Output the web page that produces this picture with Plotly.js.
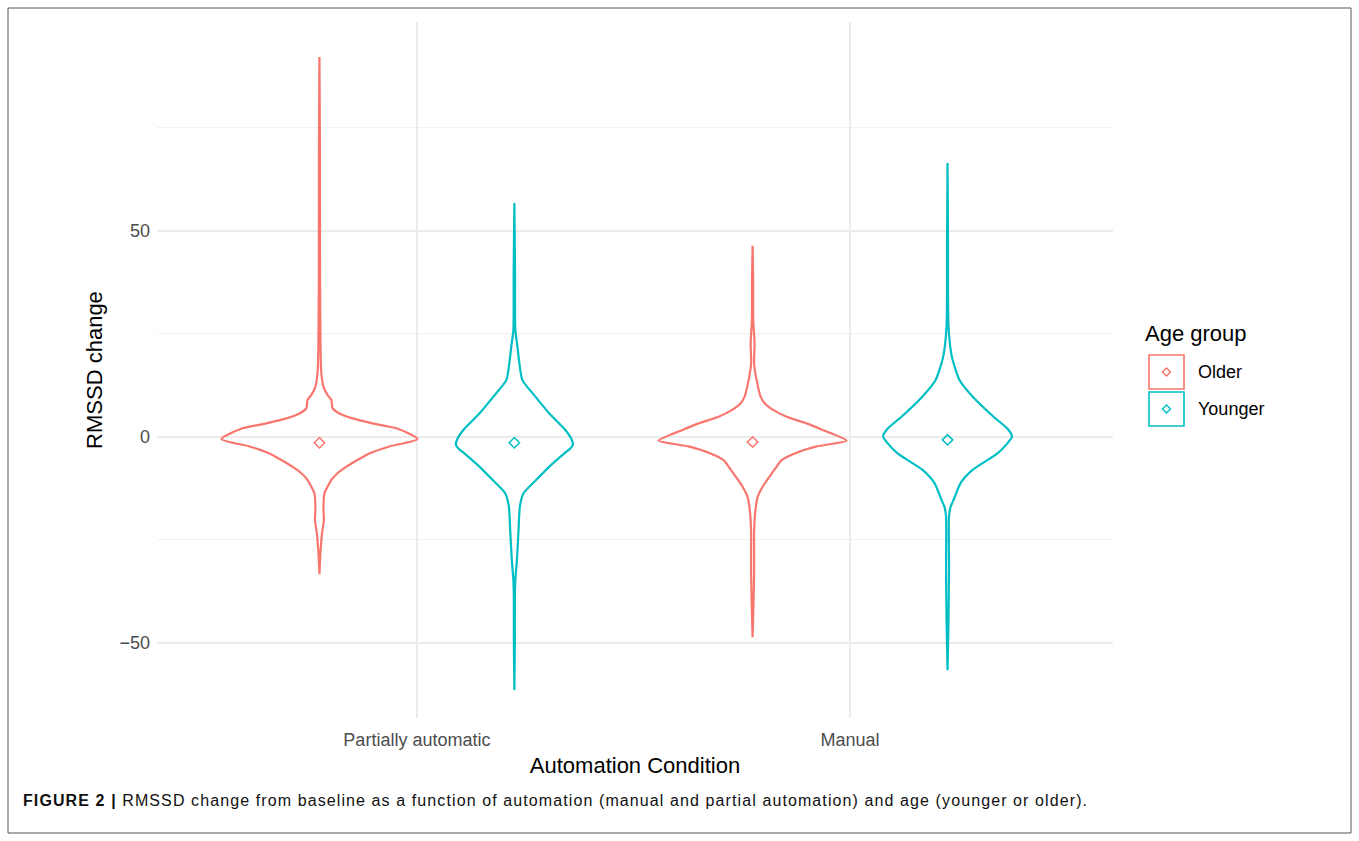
<!DOCTYPE html>
<html>
<head>
<meta charset="utf-8">
<script src="https://cdn.plot.ly/plotly-3.0.1.min.js"></script>
<style>html,body{margin:0;padding:0;background:#fff;}#chart{width:1359px;height:841px;}</style>
</head>
<body>
<div id="chart"></div>
<script>
// ---------- data ----------
const conditions = ["Partially automatic", "Manual"];
const ageGroups = ["Older", "Younger"];
const yTicks = [-50, 0, 50];
const yTickLabels = ["\u221250", "0", "50"];

// Violin outlines: RMSSD change level and relative density (half-width, peak of widest = 100)
const olderPartialY = [-33.3,-28.2,-23.3,-20.1,-17.7,-13.7,-12.1,-10.4,-8.8,-7.2,-5.6,-4.0,-2.3,-0.5,2.1,3.3,4.5,5.7,7.0,9.0,10.2,12.2,16.3,24.3,40,70,92.2];
const olderPartialD = [0,1,2.7,4.6,4.1,5.1,8.2,12.2,18.4,27.6,38.8,51,71.4,100,78.6,54.1,33.7,20.4,13.3,12.2,8.2,4.1,1.7,1,0.6,0.5,0];

const youngerPartialY = [-61.4,-50,-39.6,-34.7,-29.9,-23.4,-16.9,-13.7,-10.4,-7.2,-4.0,-2.8,-1.9,-0.5,1.7,5.7,9.8,13.8,17.9,22,26,40,56.8];
const youngerPartialD = [0,0.5,0.5,1,2.6,4.1,5.6,9.2,22.4,35.7,51,57.1,59.7,58.2,52,35.7,21.4,8.2,5.1,3.1,1,0.7,0];

const olderManualY = [-48.6,-39.6,-33,-27.4,-23.3,-18.4,-14.6,-12.1,-9.6,-7.2,-5.6,-4.0,-2.3,-0.9,1.7,3.3,4.9,6.5,8.2,9.8,13.8,17.9,22.7,28.4,38,46.4];
const olderManualD = [0,1,1.5,1.5,1.5,2.6,5.1,10.2,17.3,24.5,29.6,42.9,65.3,95.9,71.4,55.1,34.7,21.4,12.2,8.2,4.1,1.5,2,0.7,0.6,0];

const youngerManualY = [-56.6,-44.4,-32.3,-19.3,-17,-15.3,-11.2,-8,-4,-1.5,0.1,2,4.9,9.8,13.8,19.5,26.8,47.8,66.5];
const youngerManualD = [0,1,1.5,1.5,3.1,6.1,13.3,25.5,51,61.2,65.8,61.2,46.9,25.5,12.2,4.4,1,0.5,0];

const meanValues = [-1.4, -1.4, -1.2, -0.7]; // Older-PA, Younger-PA, Older-Manual, Younger-Manual

const captionBold = "FIGURE 2 |";
const captionText = " RMSSD change from baseline as a function of automation (manual and partial automation) and age (younger or older).";

// ---------- styling ----------
const colors = {Older: "#F8766D", Younger: "#00BFC4"};
const dodge = 0.225;           // offset of each age group from the category centre
const widthScale = 0.002263;   // x-units per density unit
const W = 1359, H = 841;
const M = {l: 157, r: 246, t: 22, b: 123};
const pw = W - M.l - M.r, ph = H - M.t - M.b;
const px = x => (x - M.l) / pw;
const py = y => (H - M.b - y) / ph;

const groups = [
  {cond: 0, age: "Older",   y: olderPartialY,   d: olderPartialD},
  {cond: 0, age: "Younger", y: youngerPartialY, d: youngerPartialD},
  {cond: 1, age: "Older",   y: olderManualY,    d: olderManualD},
  {cond: 1, age: "Younger", y: youngerManualY,  d: youngerManualD}
];

const traces = [];
groups.forEach((g, i) => {
  const c = (g.cond + 1) + (g.age === "Older" ? -dodge : dodge);
  const xs = [], ys = [];
  for (let k = 0; k < g.y.length; k++) { xs.push(c + g.d[k] * widthScale); ys.push(g.y[k]); }
  for (let k = g.y.length - 1; k >= 0; k--) { xs.push(c - g.d[k] * widthScale); ys.push(g.y[k]); }
  xs.push(xs[0]); ys.push(ys[0]);
  traces.push({
    type: "scatter", mode: "lines", x: xs, y: ys,
    line: {color: colors[g.age], width: 2.2, shape: "spline", smoothing: 0.6},
    hoverinfo: "skip", showlegend: false, name: g.age
  });
  traces.push({
    type: "scatter", mode: "markers", x: [c], y: [meanValues[i]],
    marker: {symbol: "diamond-open", size: 8, color: colors[g.age], line: {width: 1.5, color: colors[g.age]}},
    showlegend: false, name: g.age + " mean"
  });
});

// manual legend
const shapes = [
  {type: "rect", xref: "paper", yref: "paper", x0: px(8), x1: px(1351), y0: py(833), y1: py(8),
   line: {color: "#555", width: 1}, fillcolor: "rgba(0,0,0,0)", layer: "below"}
];
const annotations = [
  {xref: "paper", yref: "paper", x: px(1143), y: py(333), xanchor: "left", yanchor: "middle",
   text: "Age group", showarrow: false, font: {size: 22, color: "#000"}},
  {xref: "paper", yref: "paper", x: px(21), y: py(800), xanchor: "left", yanchor: "middle",
   text: "<b>" + captionBold + "</b>" + captionText, showarrow: false, font: {size: 16, color: "#111"}}
];
ageGroups.forEach((a, i) => {
  const top = 355 + i * 37;
  shapes.push({type: "rect", xref: "paper", yref: "paper", x0: px(1149), x1: px(1184), y0: py(top + 34), y1: py(top),
    line: {color: colors[a], width: 1.6}, fillcolor: "rgba(0,0,0,0)"});
  const cx = 1166.5, cy = top + 17, r = 4;
  shapes.push({type: "path", xref: "paper", yref: "paper",
    path: `M ${px(cx)} ${py(cy - r)} L ${px(cx + r)} ${py(cy)} L ${px(cx)} ${py(cy + r)} L ${px(cx - r)} ${py(cy)} Z`,
    line: {color: colors[a], width: 1.4}, fillcolor: "rgba(0,0,0,0)"});
  annotations.push({xref: "paper", yref: "paper", x: px(1196), y: py(cy), xanchor: "left", yanchor: "middle",
    text: a, showarrow: false, font: {size: 18, color: "#000"}});
});

const layout = {
  width: W, height: H,
  margin: M,
  paper_bgcolor: "#fff", plot_bgcolor: "#fff",
  font: {family: "Liberation Sans, Arial, sans-serif", color: "#000"},
  showlegend: false,
  xaxis: {
    range: [0.4, 2.607], tickvals: [1, 2], ticktext: conditions,
    showgrid: true, gridcolor: "#ebebeb", gridwidth: 1.5, zeroline: false, showline: false,
    ticks: "", tickfont: {size: 18, color: "#4d4d4d"}, ticklabelstandoff: 9,
    title: {text: "Automation Condition", font: {size: 22, color: "#000"}, standoff: 8}
  },
  yaxis: {
    range: [-68.2, 100.7], tickvals: yTicks, ticktext: yTickLabels,
    showgrid: true, gridcolor: "#ebebeb", gridwidth: 1.5, zeroline: false, showline: false,
    ticks: "", tickfont: {size: 18, color: "#4d4d4d"}, ticklabelstandoff: 6,
    minor: {tickvals: [-25, 25, 75], showgrid: true, gridcolor: "#f1f1f1", gridwidth: 1},
    title: {text: "RMSSD change", font: {size: 22, color: "#000"}, standoff: 10}
  },
  shapes: shapes,
  annotations: annotations
};

Plotly.newPlot("chart", traces, layout, {staticPlot: true, displayModeBar: false}).then(gd => {
  // widen the caption tracking to match the journal typesetting, keeping its left edge fixed
  gd.querySelectorAll(".annotation-text").forEach(t => {
    if (t.textContent.indexOf("FIGURE 2") !== 0) return;
    const w0 = t.getBBox().width;
    t.setAttribute("letter-spacing", "1.1px");
    const w1 = t.getBBox().width;
    t.setAttribute("transform", "translate(" + ((w1 - w0) / 2) + ",0)");
  });
});
</script>
</body>
</html>
